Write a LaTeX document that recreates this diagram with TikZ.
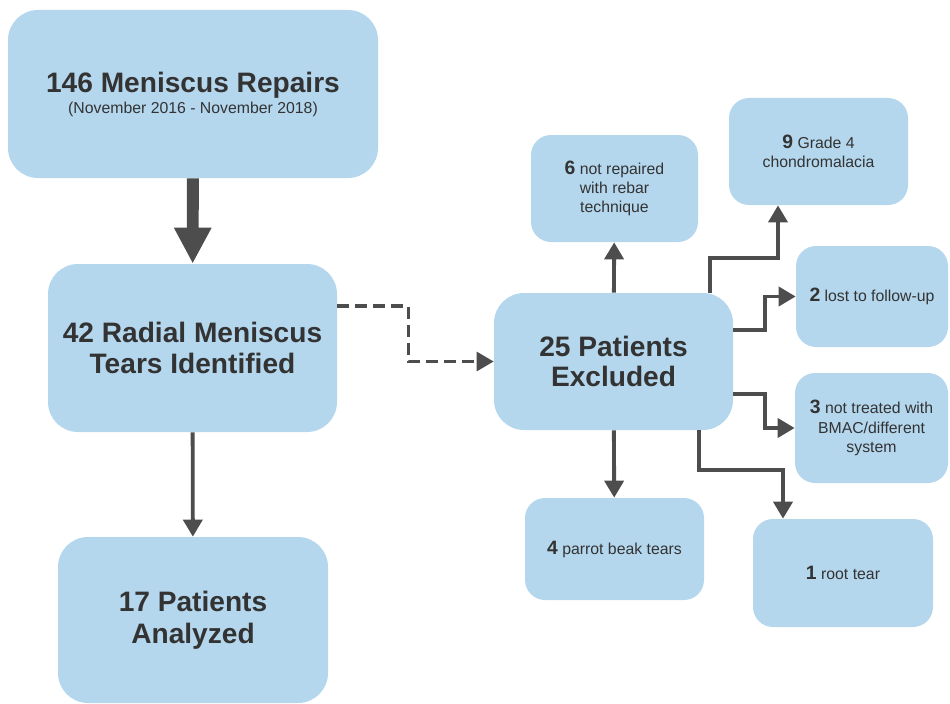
\documentclass[tikz,border=0pt]{standalone}
\usepackage{fontspec}
\setmainfont{Liberation Sans}
\usetikzlibrary{arrows.meta,calc}
\definecolor{boxblue}{HTML}{B4D7EE}
\definecolor{arrowgray}{HTML}{4D4D4D}
\definecolor{textgray}{HTML}{333333}
\newcommand{\cnt}[1]{{\fontsize{11}{11}\selectfont\bfseries #1}}
\tikzset {
  box/.style={rectangle,rounded corners=.6cm,fill=boxblue,text=textgray,align=center,inner sep=2pt,
    font=\fontsize{16}{18}\selectfont\bfseries},
  smallbox/.style={box,rounded corners=.4cm,font=\fontsize{9}{11}\selectfont},
  link/.style={draw=arrowgray,line width=2.2pt,-{Triangle[width=.38cm,length=.34cm]}},
  bigarrow/.style={draw=arrowgray,line width=6.8pt,-{Triangle[width=.7cm,length=.72cm]}},
  dashlink/.style={link,line width=1.8pt,dash pattern=on .24cm off .12cm}
}

\begin{document}
\begin{tikzpicture}
\useasboundingbox (0,0) rectangle (19,-14.06);

% left column
\node[box,minimum width=7.4cm,minimum height=3.36cm] (repairs) at (3.86,-1.88)
  {146 Meniscus Repairs\\[-6pt]{\fontsize{9}{11}\selectfont\mdseries(November 2016 - November 2018)}};
\node[box,minimum width=5.78cm,minimum height=3.36cm] (radial) at (3.85,-6.96)
  {42 Radial Meniscus\\Tears Identified};
\node[box,minimum width=5.4cm,minimum height=3.32cm] (analyzed) at (3.86,-12.4)
  {17 Patients\\Analyzed};

% excluded and its reasons
\node[box,minimum width=4.78cm,minimum height=2.74cm] (excluded) at (12.27,-7.23)
  {25 Patients\\[-1pt]Excluded};
\node[smallbox,minimum width=3.34cm,minimum height=2.14cm] (rebar) at (12.29,-3.77)
  {\cnt{6} not repaired\\with rebar\\technique};
\node[smallbox,minimum width=3.58cm,minimum height=2.14cm] (chondro) at (16.37,-3.03)
  {\cnt{9} Grade 4\\chondromalacia};
\node[smallbox,minimum width=3.04cm,minimum height=2.02cm] (lost) at (17.44,-5.93)
  {\cnt{2} lost to follow-up};
\node[smallbox,minimum width=3.06cm,minimum height=2.2cm] (bmac) at (17.43,-8.56)
  {\cnt{3} not treated with\\BMAC/different\\system};
\node[smallbox,minimum width=3.58cm,minimum height=2.04cm] (parrot) at (12.29,-10.98)
  {\cnt{4} parrot beak tears};
\node[smallbox,minimum width=3.6cm,minimum height=2.16cm] (root) at (16.86,-11.46)
  {\cnt{1} root tear};

\draw[bigarrow] (repairs) -- (radial);
\draw[link] (radial) -- (analyzed);
\draw[dashlink] ([yshift=.84cm]radial.east) -- ++(1.42,0) |- (excluded.west);

\draw[link] (excluded) -- (rebar);
\draw[link] (excluded) -- (parrot);
\draw[link] ([xshift=-.46cm]excluded.north east) -- ++(0,.7) -| ([xshift=-.81cm]chondro.south);
\draw[link] ([yshift=-.74cm]excluded.north east) -- ++(.64,0) |- (lost.west);
\draw[link] ([yshift=.72cm]excluded.south east) -- ++(.64,0) |- (bmac.west);
\draw[link] ([xshift=-.68cm]excluded.south east) -- ++(0,-.8) -| ([xshift=-1.2cm]root.north);
\end{tikzpicture}
\end{document}
